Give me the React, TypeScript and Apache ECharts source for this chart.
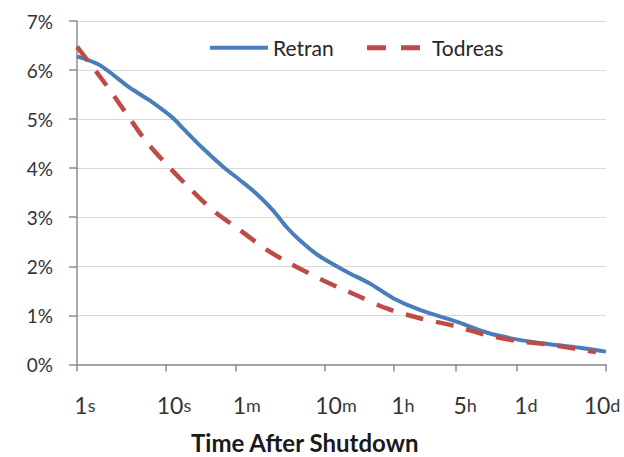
import React, { useEffect, useRef } from "react";
import * as echarts from "echarts";

// x values are log10(seconds after shutdown); y values are percent of power
const xTickSeconds = [1, 10, 60, 600, 3600, 18000, 86400, 864000];
const xTickNums = ["1", "10", "1", "10", "1", "5", "1", "10"];
const xTickUnits = ["s", "s", "m", "m", "h", "h", "d", "d"];
const yTicks = [0, 1, 2, 3, 4, 5, 6, 7];
const seriesNames = ["Retran", "Todreas"];
const seriesColors = ["#4A7EBB", "#BE4B48"];

const retranX = [0, 0.255, 0.592, 0.816, 1.078, 1.19, 1.415, 1.639, 1.827, 2.014, 2.2, 2.351, 2.5, 2.702, 3.025, 3.286, 3.548, 3.848, 4.26, 4.596, 4.933, 5.307, 5.681, 5.936];
const retranY = [6.28, 6.1, 5.64, 5.38, 5.02, 4.81, 4.4, 4.03, 3.76, 3.48, 3.14, 2.8, 2.53, 2.23, 1.89, 1.65, 1.35, 1.11, 0.87, 0.65, 0.51, 0.41, 0.33, 0.26];

const todreasX = [0, 0.33, 0.555, 0.779, 1.004, 1.265, 1.527, 1.827, 2.126, 2.388, 2.8, 3.137, 3.474, 3.848, 4.221, 4.596, 4.933, 5.307, 5.719, 5.824];
const todreasY = [6.48, 5.69, 5.11, 4.54, 4.08, 3.59, 3.14, 2.74, 2.34, 2.06, 1.68, 1.41, 1.14, 0.94, 0.79, 0.6, 0.48, 0.4, 0.28, 0.25];

const xTickValues = xTickSeconds.map((s) => Math.log10(s));

export default function App() {
  const ref = useRef<HTMLDivElement>(null);
  useEffect(() => {
    if (!ref.current) return;
    const chart = echarts.init(ref.current, null, { renderer: "svg" });
    const font = "Lato";
    chart.setOption({
      animation: false,
      backgroundColor: "#ffffff",
      textStyle: { fontFamily: font },
      grid: {
        left: 77,
        right: 18,
        top: 21,
        bottom: 92.6,
        containLabel: false,
        outerBoundsMode: "none",
      },
      xAxis: {
        type: "value",
        min: 0,
        max: Math.log10(864000),
        splitLine: { show: false },
        axisLine: { show: true, lineStyle: { color: "#8c8c8c", width: 1.5 } },
        axisTick: {
          show: true,
          length: 7,
          customValues: xTickValues,
          lineStyle: { color: "#8c8c8c", width: 1.5 },
        },
        axisLabel: {
          customValues: xTickValues,
          margin: 28,
          padding: [0, 0, 0, 8],
          formatter: (v: number) => {
            let idx = 0;
            let best = Infinity;
            xTickValues.forEach((t, i) => {
              const d = Math.abs(t - v);
              if (d < best) {
                best = d;
                idx = i;
              }
            });
            const u = xTickUnits[idx];
            if (idx === xTickValues.length - 1) {
              return `{n|${xTickNums[idx]}}{u|${u}}{q| }`;
            }
            return `{p|${u}}{n|${xTickNums[idx]}}{u|${u}}`;
          },
          rich: {
            n: { fontFamily: font, fontSize: 23, color: "#333333", lineHeight: 26 },
            u: { fontFamily: font, fontSize: 18, color: "#3a3a3a", lineHeight: 26 },
            p: { fontFamily: font, fontSize: 18, color: "rgba(0,0,0,0)", lineHeight: 26 },
            q: { fontFamily: font, fontSize: 18, color: "rgba(0,0,0,0)", lineHeight: 26, width: 16 },
          },
        },
      },
      yAxis: {
        type: "value",
        min: 0,
        max: 7,
        interval: 1,
        axisLine: { show: true, lineStyle: { color: "#8c8c8c", width: 1.5 } },
        axisTick: { show: true, length: 8, lineStyle: { color: "#8c8c8c", width: 1.5 } },
        splitLine: { show: true, lineStyle: { color: "#d9d9d9", width: 1.2 } },
        axisLabel: {
          margin: 24,
          fontFamily: font,
          fontSize: 19,
          color: "#333333",
          formatter: (v: number) => (yTicks.includes(v) ? `${v}%` : ""),
        },
      },
      series: [
        {
          name: seriesNames[0],
          type: "line",
          smooth: 0.3,
          symbol: "none",
          data: retranX.map((x, i) => [x, retranY[i]]),
          lineStyle: { color: seriesColors[0], width: 4 },
          itemStyle: { color: seriesColors[0] },
        },
        {
          name: seriesNames[1],
          type: "line",
          smooth: 0.3,
          symbol: "none",
          data: todreasX.map((x, i) => [x, todreasY[i]]),
          lineStyle: { color: seriesColors[1], width: 4.5, type: [18, 13] },
          itemStyle: { color: seriesColors[1] },
        },
      ],
      graphic: [
        // legend
        {
          type: "line",
          shape: { x1: 210, y1: 47.7, x2: 268, y2: 47.7 },
          style: { stroke: seriesColors[0], lineWidth: 4 },
        },
        {
          type: "text",
          x: 273,
          y: 47.5,
          style: {
            text: seriesNames[0],
            fontFamily: font,
            fontSize: 21,
            fill: "#262626",
            verticalAlign: "middle",
          },
        },
        {
          type: "line",
          shape: { x1: 367, y1: 47.7, x2: 420, y2: 47.7 },
          style: { stroke: seriesColors[1], lineWidth: 5, lineDash: [19, 15] },
        },
        {
          type: "text",
          x: 432,
          y: 47.5,
          style: {
            text: seriesNames[1],
            fontFamily: font,
            fontSize: 21,
            fill: "#262626",
            verticalAlign: "middle",
          },
        },
        // axis title
        {
          type: "text",
          left: 191,
          top: 430,
          style: {
            text: "Time After Shutdown",
            fontFamily: font,
            fontWeight: "bold",
            fontSize: 24,
            lineHeight: 22,
            fill: "#1a1a1a",
          },
        },
      ],
    });
    return () => chart.dispose();
  }, []);
  return (
    <div
      ref={ref}
      style={{ position: "absolute", left: 0, top: 0, width: 624, height: 457 }}
    />
  );
}
